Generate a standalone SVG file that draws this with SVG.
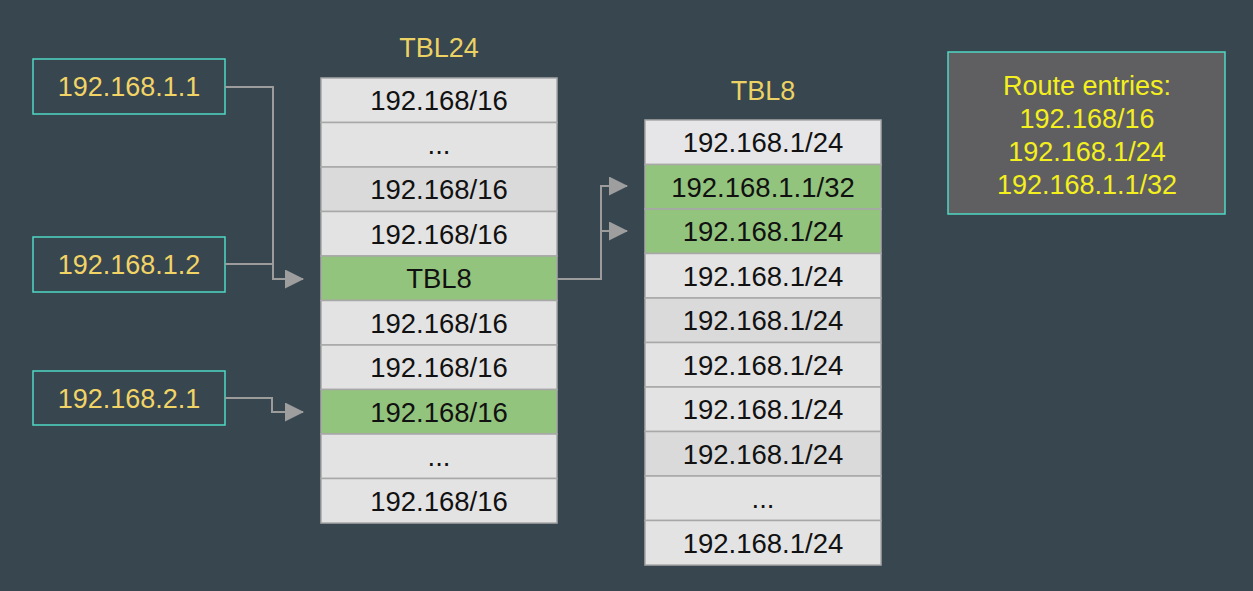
<svg xmlns="http://www.w3.org/2000/svg" width="1253" height="591" viewBox="0 0 1253 591">
<style>
.in rect{fill:none;stroke:#4fd8c4;stroke-width:1.5}
.in text{font-family:"Liberation Sans",Arial,sans-serif;font-size:27px;fill:#f2d466;text-anchor:middle}
.title{font-family:"Liberation Sans",Arial,sans-serif;font-size:27px;fill:#ecd264;text-anchor:middle}
.row rect{stroke:#a8a8a8;stroke-width:1.5}
.row text{font-family:"Liberation Sans",Arial,sans-serif;font-size:27.5px;fill:#111;text-anchor:middle}
.g{fill:#93c47d}
.w{fill:#e3e3e3}
.d{fill:#dadada}
.c{fill:none;stroke:#9c9c9c;stroke-width:2}
.rt{font-family:"Liberation Sans",Arial,sans-serif;font-size:27px;fill:#f4ef1e;text-anchor:middle}
</style>
<defs>
<marker id="ah" markerWidth="19" markerHeight="19" viewBox="0 0 19 19" refX="18" refY="9.5" orient="auto" markerUnits="userSpaceOnUse">
<path d="M0,0 L19,9.5 L0,19 Z" fill="#9e9e9e"/>
</marker>
</defs>
<rect width="1253" height="591" fill="#37464f"/>

<g id="in1" class="in"><rect x="33" y="59" width="192" height="55"/><text x="129" y="96">192.168.1.1</text></g>
<g id="in2" class="in"><rect x="33" y="237" width="192" height="55"/><text x="129" y="274">192.168.1.2</text></g>
<g id="in3" class="in"><rect x="33" y="371" width="192" height="54"/><text x="129" y="408">192.168.2.1</text></g>

<g id="tbl24">
<text class="title" x="439" y="57">TBL24</text>
<g class="row"><rect class="w" x="321" y="78" width="236" height="44.5"/><text x="439" y="110">192.168/16</text></g>
<g class="row"><rect class="w" x="321" y="122.5" width="236" height="44.5"/><text x="439" y="154">...</text></g>
<g class="row"><rect class="d" x="321" y="167" width="236" height="44.5"/><text x="439" y="199">192.168/16</text></g>
<g class="row"><rect class="w" x="321" y="211.5" width="236" height="44.5"/><text x="439" y="244">192.168/16</text></g>
<g class="row"><rect class="g" x="321" y="256" width="236" height="44.5"/><text x="439" y="288">TBL8</text></g>
<g class="row"><rect class="w" x="321" y="300.5" width="236" height="44.5"/><text x="439" y="333">192.168/16</text></g>
<g class="row"><rect class="w" x="321" y="345" width="236" height="44.5"/><text x="439" y="377">192.168/16</text></g>
<g class="row"><rect class="g" x="321" y="389.5" width="236" height="44.5"/><text x="439" y="422">192.168/16</text></g>
<g class="row"><rect class="w" x="321" y="434" width="236" height="44.5"/><text x="439" y="466">...</text></g>
<g class="row"><rect class="w" x="321" y="478.5" width="236" height="44.5"/><text x="439" y="511">192.168/16</text></g>
</g>

<g id="tbl8">
<text class="title" x="763" y="100">TBL8</text>
<g class="row"><rect class="w" x="645" y="120" width="236" height="44.5" style="fill:#e6e6e8"/><text x="763" y="152">192.168.1/24</text></g>
<g class="row"><rect class="g" x="645" y="164.5" width="236" height="44.5"/><text x="763" y="197">192.168.1.1/32</text></g>
<g class="row"><rect class="g" x="645" y="209" width="236" height="44.5"/><text x="763" y="241">192.168.1/24</text></g>
<g class="row"><rect class="w" x="645" y="253.5" width="236" height="44.5"/><text x="763" y="286">192.168.1/24</text></g>
<g class="row"><rect class="d" x="645" y="298" width="236" height="44.5"/><text x="763" y="330">192.168.1/24</text></g>
<g class="row"><rect class="w" x="645" y="342.5" width="236" height="44.5"/><text x="763" y="375">192.168.1/24</text></g>
<g class="row"><rect class="w" x="645" y="387" width="236" height="44.5"/><text x="763" y="419">192.168.1/24</text></g>
<g class="row"><rect class="d" x="645" y="431.5" width="236" height="44.5"/><text x="763" y="464">192.168.1/24</text></g>
<g class="row"><rect class="w" x="645" y="476" width="236" height="44.5"/><text x="763" y="508">...</text></g>
<g class="row"><rect class="w" x="645" y="520.5" width="236" height="44.5"/><text x="763" y="553">192.168.1/24</text></g>
</g>

<g id="routes">
<rect x="948" y="52" width="277" height="162" fill="#5f5f61" stroke="#4fd8c4" stroke-width="1.5"/>
<text class="rt" x="1087" y="95">Route entries:</text>
<text class="rt" x="1087" y="128">192.168/16</text>
<text class="rt" x="1087" y="161">192.168.1/24</text>
<text class="rt" x="1087" y="194">192.168.1.1/32</text>
</g>

<g id="connectors">
<path class="c" d="M225,87 H273 V279 H303" marker-end="url(#ah)"/>
<path class="c" d="M225,264 H273"/>
<path class="c" d="M225,398 H272 V412 H303" marker-end="url(#ah)"/>
<path class="c" d="M557,279 H601 V186 H627" marker-end="url(#ah)"/>
<path class="c" d="M601,231 H627" marker-end="url(#ah)"/>
</g>
</svg>
